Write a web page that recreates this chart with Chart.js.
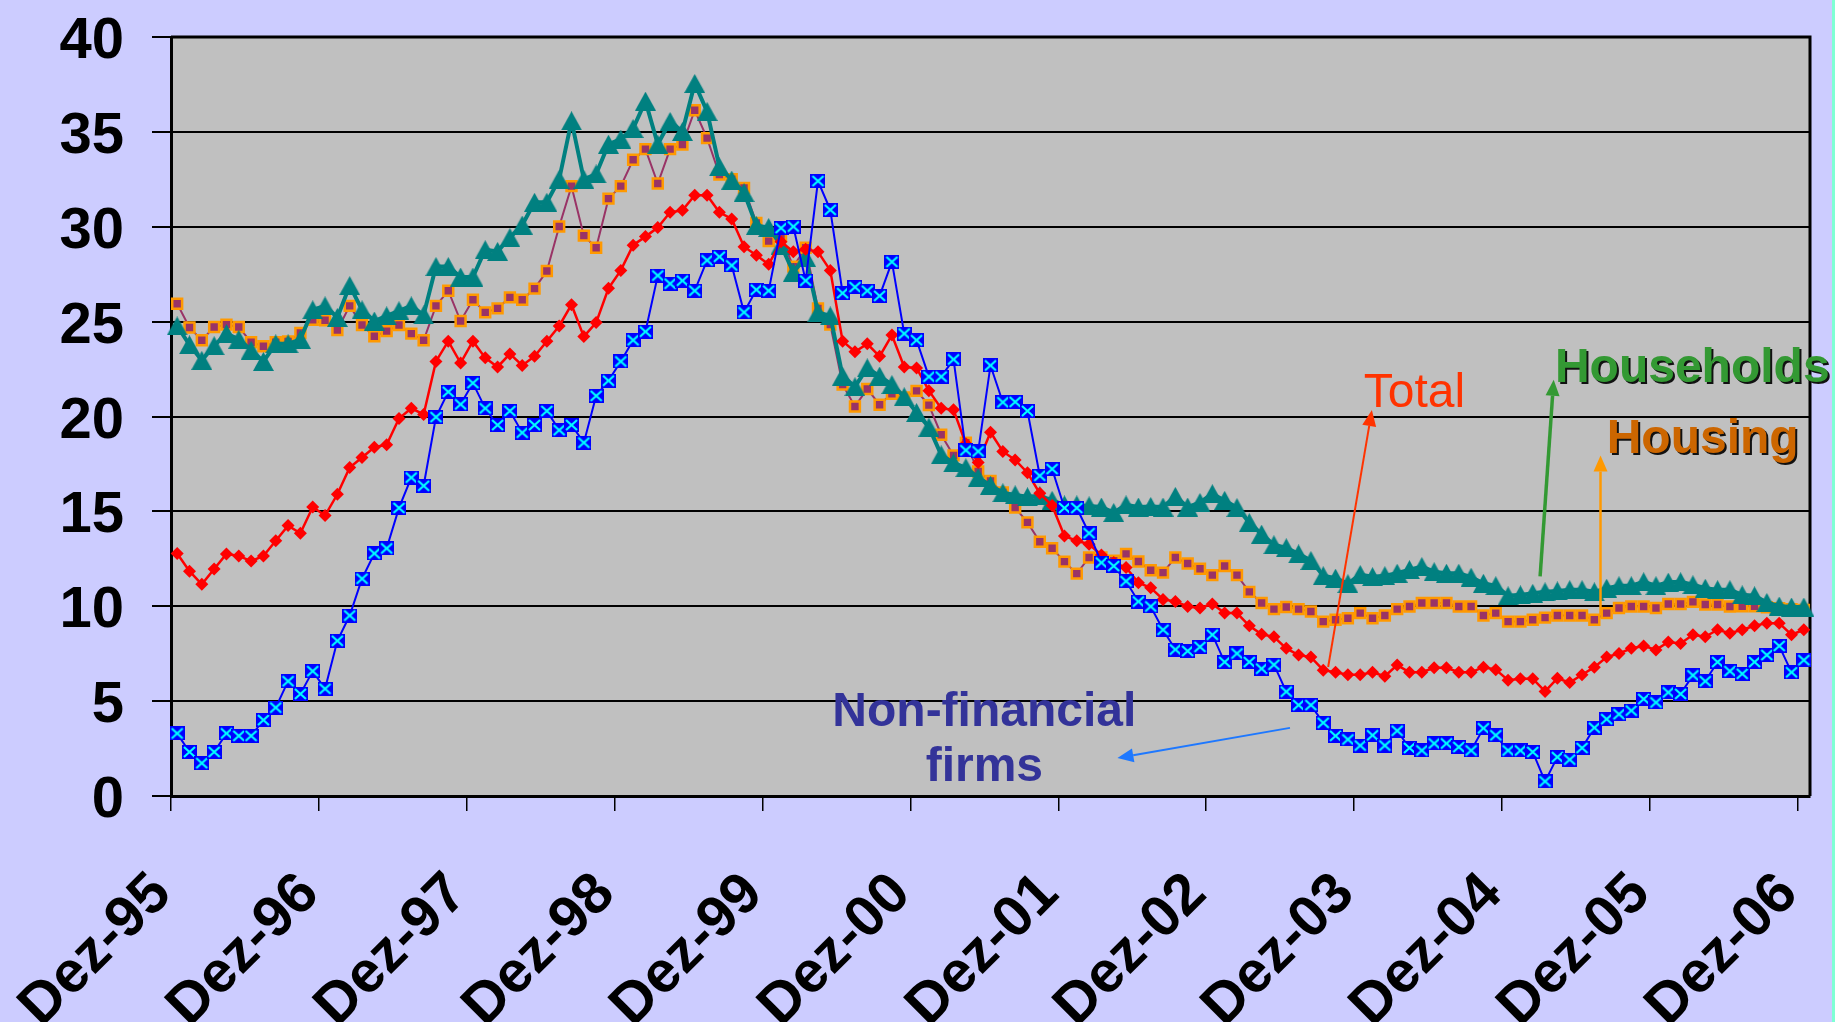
<!DOCTYPE html>
<html>
<head>
<meta charset="utf-8">
<script src="https://cdn.jsdelivr.net/npm/chart.js@4.4.1/dist/chart.umd.min.js"></script>
<style>
  html, body { margin: 0; padding: 0; background: #CCCCFF; overflow: hidden; }
  #wrap { position: relative; width: 1835px; height: 1022px; }
  #strip { position: absolute; right: 0; top: 0; width: 3px; height: 1022px; background: #7FFFD4; }
</style>
</head>
<body>
<div id="wrap">
  <canvas id="myChart" width="1835" height="1022"></canvas>
  <div id="strip"></div>
</div>
<script>
'use strict';

// monthly observations, Dez-95 .. Dez-06
var monthNames = ['Jan', 'Fev', 'Mar', 'Abr', 'Mai', 'Jun', 'Jul', 'Ago', 'Set', 'Out', 'Nov', 'Dez'];
var years = ['95', '96', '97', '98', '99', '00', '01', '02', '03', '04', '05', '06'];
var yTicks = [0, 5, 10, 15, 20, 25, 30, 35, 40];

var months = ['Dez-95'];
for (var y = 1; y < years.length; y++) {
  for (var m = 0; m < 12; m++) months.push(monthNames[m] + '-' + years[y]);
}

var total = [
  12.78, 11.85, 11.16, 11.96, 12.76, 12.65, 12.38, 12.65, 13.45, 14.25, 13.85, 15.23, 14.78,
  15.9, 17.31, 17.84, 18.38, 18.51, 19.89, 20.43, 20.11, 22.9, 23.97, 22.82, 23.97,
  23.09, 22.61, 23.3, 22.69, 23.17, 23.97, 24.77, 25.89, 24.21, 24.95, 26.76, 27.7,
  29.03, 29.48, 29.96, 30.76, 30.87, 31.66, 31.66, 30.76, 30.41, 28.95, 28.5, 28.02,
  29.21, 28.68, 28.82, 28.68, 27.7, 23.97, 23.41, 23.83, 23.17, 24.29, 22.61, 22.56,
  21.36, 20.43, 20.35, 18.56, 17.58, 19.17, 18.16, 17.71, 17.04, 15.95, 15.31, 13.7,
  13.45, 13.27, 12.7, 12.3, 12.04, 11.24, 10.97, 10.36, 10.25, 9.99, 9.91, 10.12,
  9.64, 9.64, 8.97, 8.52, 8.39, 7.78, 7.43, 7.32, 6.63, 6.52, 6.39, 6.39,
  6.52, 6.31, 6.9, 6.52, 6.52, 6.76, 6.76, 6.52, 6.52, 6.79, 6.66, 6.1,
  6.18, 6.18, 5.51, 6.2, 5.98, 6.39, 6.79, 7.32, 7.51, 7.78, 7.91, 7.7,
  8.12, 8.04, 8.5, 8.39, 8.76, 8.58, 8.76, 8.97, 9.11, 9.11, 8.5, 8.76
];

var housing = [
  25.94, 24.69, 24.02, 24.72, 24.84, 24.72, 23.91, 23.7, 23.92, 23.95, 24.4, 25.1, 25.07,
  24.55, 25.83, 24.82, 24.23, 24.5, 24.82, 24.37, 24.02, 25.83, 26.63, 25.03, 26.15,
  25.49, 25.7, 26.28, 26.15, 26.74, 27.67, 30.01, 32.14, 29.53, 28.89, 31.48, 32.14,
  33.53, 34.09, 32.28, 34.09, 34.33, 36.14, 34.67, 32.75, 32.5, 32.05, 30.2, 29.24,
  29.5, 27.9, 28.89, 25.7, 24.84, 21.68, 20.53, 21.45, 20.62, 21.2, 21.0, 21.35,
  20.6, 19.04, 17.95, 18.62, 17.1, 16.6, 16.0, 15.2, 14.42, 13.4, 13.06, 12.35,
  11.72, 12.57, 12.57, 12.4, 12.76, 12.36, 11.9, 11.77, 12.57, 12.25, 11.98, 11.64,
  12.12, 11.64, 10.76, 10.17, 9.85, 9.96, 9.85, 9.72, 9.19, 9.29, 9.37, 9.64,
  9.37, 9.51, 9.85, 9.99, 10.17, 10.17, 10.17, 9.99, 9.99, 9.51, 9.64, 9.19,
  9.19, 9.29, 9.4, 9.51, 9.51, 9.51, 9.29, 9.64, 9.91, 9.99, 9.99, 9.91,
  10.12, 10.12, 10.23, 10.09, 10.09, 9.99, 10.0, 10.0, 9.95, 9.9, 9.85, 9.8
];

var households = [
  24.77, 23.78, 22.96, 23.73, 24.37, 24.07, 23.49, 22.9, 23.83, 23.83, 24.07, 25.62, 25.83,
  25.22, 26.9, 25.62, 25.03, 25.3, 25.57, 25.83, 25.35, 27.9, 27.9, 27.35, 27.35,
  28.79, 28.7, 29.43, 30.09, 31.29, 31.29, 32.5, 35.58, 32.5, 32.78, 34.35, 34.62,
  35.18, 36.62, 34.35, 35.55, 35.02, 37.55, 36.08, 33.16, 32.46, 31.8, 30.07, 29.96,
  29.03, 27.6, 28.38, 25.49, 25.3, 22.13, 21.57, 22.56, 22.13, 21.68, 21.04, 20.21,
  19.44, 17.98, 17.55, 17.3, 16.78, 16.38, 15.98, 15.87, 15.77, 15.82, 15.58, 15.34,
  15.34, 15.29, 15.23, 14.94, 15.34, 15.23, 15.26, 15.23, 15.79, 15.23, 15.47, 15.93,
  15.58, 15.2, 14.41, 13.8, 13.24, 13.08, 12.76, 12.41, 11.61, 11.48, 11.19, 11.67,
  11.56, 11.61, 11.74, 11.93, 12.09, 11.82, 11.74, 11.74, 11.53, 11.21, 11.08, 10.55,
  10.6, 10.68, 10.76, 10.81, 10.87, 10.87, 10.76, 10.95, 11.08, 11.08, 11.29, 11.08,
  11.27, 11.29, 11.13, 10.95, 10.87, 10.87, 10.6, 10.55, 10.2, 10.01, 9.96, 9.96
];

var nonFinancial = [
  3.3, 2.32, 1.73, 2.32, 3.3, 3.17, 3.17, 4.0, 4.66, 6.05, 5.38, 6.58, 5.65,
  8.18, 9.51, 11.45, 12.78, 13.05, 15.18, 16.78, 16.35, 19.97, 21.3, 20.64, 21.76,
  20.43, 19.55, 20.29, 19.15, 19.55, 20.29, 19.28, 19.55, 18.62, 21.09, 21.89, 22.9,
  24.02, 24.47, 27.43, 27.0, 27.16, 26.63, 28.23, 28.42, 27.96, 25.49, 26.68, 26.63,
  29.93, 30.01, 27.16, 32.41, 30.89, 26.5, 26.82, 26.63, 26.36, 28.15, 24.37, 24.02,
  22.1, 22.1, 23.01, 18.22, 18.16, 22.69, 20.75, 20.77, 20.29, 16.88, 17.23, 15.18,
  15.18, 13.85, 12.3, 12.12, 11.32, 10.25, 9.99, 8.76, 7.72, 7.64, 7.86, 8.5,
  7.06, 7.51, 7.06, 6.71, 6.92, 5.5, 4.79, 4.79, 3.86, 3.17, 2.98, 2.66,
  3.2, 2.66, 3.44, 2.53, 2.4, 2.77, 2.77, 2.58, 2.4, 3.57, 3.2, 2.4,
  2.4, 2.32, 0.77, 2.05, 1.92, 2.53, 3.6, 4.05, 4.31, 4.5, 5.11, 4.93,
  5.46, 5.38, 6.36, 6.05, 7.06, 6.58, 6.44, 7.06, 7.43, 7.91, 6.52, 7.16
];

// text labels and arrows, placed in data units (category index, value)
var notes = [
  { text: 'Non-financial', at: [65.5, 3.7], color: '#333399', weight: 'bold', align: 'center' },
  { text: 'firms', at: [65.5, 0.8], color: '#333399', weight: 'bold', align: 'center' },
  { text: 'Total', at: [100.4, 20.5], color: '#FF3300', weight: 'normal', align: 'center' },
  { text: 'Households', at: [111.8, 21.8], color: '#339933', weight: 'bold', align: 'left', shadow: true },
  { text: 'Housing', at: [116.0, 18.1], color: '#CC6600', weight: 'bold', align: 'left', shadow: true }
];
var arrows = [
  { from: [90.3, 3.59], to: [76.3, 2.0], color: '#1E78FF', width: 2 },
  { from: [93.4, 6.8], to: [96.95, 20.34], color: '#FF3300', width: 2 },
  { from: [110.6, 11.57], to: [111.7, 21.94], color: '#339933', width: 3.5 },
  { from: [115.5, 9.57], to: [115.5, 17.94], color: '#FF9900', width: 2.5 }
];

var FONT = 'Liberation Sans, Arial, sans-serif';

function makeBoxCross() {
  var c = document.createElement('canvas');
  c.width = 15; c.height = 14;
  var g = c.getContext('2d');
  g.fillStyle = '#0000FF';
  g.fillRect(0, 0, 15, 14);
  g.strokeStyle = '#00FFFF';
  g.lineWidth = 2.2;
  g.beginPath();
  g.moveTo(2, 2); g.lineTo(13, 12);
  g.moveTo(13, 2); g.lineTo(2, 12);
  g.stroke();
  return c;
}

function makeTriangle() {
  var c = document.createElement('canvas');
  c.width = 21; c.height = 19;
  var g = c.getContext('2d');
  g.fillStyle = '#008080';
  g.beginPath();
  g.moveTo(10.5, 0); g.lineTo(21, 19); g.lineTo(0, 19);
  g.closePath();
  g.fill();
  return c;
}

function drawArrow(ctx, x1, y1, x2, y2, color, width) {
  var ang = Math.atan2(y2 - y1, x2 - x1);
  var len = 16, half = 7;
  var bx = x2 - Math.cos(ang) * len, by = y2 - Math.sin(ang) * len;
  ctx.strokeStyle = color;
  ctx.fillStyle = color;
  ctx.lineWidth = width;
  ctx.beginPath();
  ctx.moveTo(x1, y1);
  ctx.lineTo(bx, by);
  ctx.stroke();
  ctx.beginPath();
  ctx.moveTo(x2, y2);
  ctx.lineTo(bx + Math.sin(ang) * half, by - Math.cos(ang) * half);
  ctx.lineTo(bx - Math.sin(ang) * half, by + Math.cos(ang) * half);
  ctx.closePath();
  ctx.fill();
}

var backdrop = {
  id: 'backdrop',
  beforeDraw: function (chart) {
    var ctx = chart.ctx, a = chart.chartArea;
    ctx.save();
    ctx.fillStyle = '#CCCCFF';
    ctx.fillRect(0, 0, chart.width, chart.height);
    ctx.fillStyle = '#C0C0C0';
    ctx.fillRect(a.left, a.top, a.right - a.left, a.bottom - a.top);
    ctx.restore();
  },
  beforeDatasetsDraw: function (chart) {
    var ctx = chart.ctx, a = chart.chartArea;
    ctx.save();
    ctx.strokeStyle = '#000';
    ctx.lineWidth = 3;
    ctx.beginPath();
    ctx.moveTo(a.left, a.top);
    ctx.lineTo(a.right, a.top);
    ctx.lineTo(a.right, a.bottom);
    ctx.stroke();
    ctx.restore();
  },
  afterDatasetsDraw: function (chart) {
    var ctx = chart.ctx, xs = chart.scales.x, ys = chart.scales.y;
    ctx.save();
    arrows.forEach(function (ar) {
      drawArrow(ctx,
        xs.getPixelForValue(ar.from[0]), ys.getPixelForValue(ar.from[1]),
        xs.getPixelForValue(ar.to[0]), ys.getPixelForValue(ar.to[1]),
        ar.color, ar.width);
    });
    ctx.textBaseline = 'alphabetic';
    notes.forEach(function (n) {
      var px = xs.getPixelForValue(n.at[0]), py = ys.getPixelForValue(n.at[1]);
      ctx.font = n.weight + ' 48px ' + FONT;
      ctx.textAlign = n.align;
      if (n.shadow) {
        ctx.fillStyle = '#111';
        ctx.fillText(n.text, px + 2, py + 2);
      }
      ctx.fillStyle = n.color;
      ctx.fillText(n.text, px, py);
    });
    ctx.restore();
  }
};

var ctx = document.getElementById('myChart');
var myChart = new Chart(ctx, {
  type: 'line',
  data: {
    labels: months,
    datasets: [{
      label: 'Non-financial firms',
      data: nonFinancial,
      borderColor: '#0000FF',
      borderWidth: 2,
      pointStyle: makeBoxCross(),
      pointRadius: 7,
      order: 1
    }, {
      label: 'Total',
      data: total,
      borderColor: '#FF0000',
      borderWidth: 2.5,
      pointStyle: 'rectRot',
      pointRadius: 6.5,
      pointBackgroundColor: '#FF0000',
      pointBorderColor: '#FF0000',
      pointBorderWidth: 0,
      order: 2
    }, {
      label: 'Households',
      data: households,
      borderColor: '#008080',
      borderWidth: 4,
      pointStyle: makeTriangle(),
      pointRadius: 9,
      order: 3
    }, {
      label: 'Housing',
      data: housing,
      borderColor: '#993366',
      borderWidth: 2,
      pointStyle: 'rect',
      pointRadius: 7,
      pointBackgroundColor: '#993366',
      pointBorderColor: '#FF9900',
      pointBorderWidth: 2.5,
      order: 4
    }]
  },
  options: {
    responsive: false,
    animation: false,
    devicePixelRatio: 1,
    clip: false,
    layout: { padding: { top: 37, right: 25, left: 0, bottom: 0 } },
    elements: { line: { tension: 0, fill: false } },
    plugins: { legend: { display: false }, tooltip: { enabled: false } },
    scales: {
      x: {
        type: 'category',
        offset: true,
        afterFit: function (scale) {
          scale.height = 226;
          scale.paddingLeft = 0;
          scale.paddingRight = 0;
        },
        grid: {
          offset: true,
          drawOnChartArea: false,
          drawTicks: true,
          tickLength: 15,
          lineWidth: 1.5,
          color: function (c) { return c.index % 12 === 0 ? '#000' : 'rgba(0,0,0,0)'; }
        },
        border: { color: '#000', width: 3 },
        ticks: {
          autoSkip: false,
          minRotation: 45,
          maxRotation: 45,
          padding: 49,
          labelOffset: -15,
          color: '#000',
          font: { family: FONT, weight: 'bold', size: 58 },
          callback: function (v, i) { return i % 12 === 0 ? months[i] : ''; }
        }
      },
      y: {
        min: yTicks[0],
        max: yTicks[yTicks.length - 1],
        afterFit: function (scale) {
          scale.width = 171;
          scale.paddingTop = 0;
          scale.paddingBottom = 0;
        },
        grid: { color: '#000', lineWidth: 2, tickLength: 19 },
        border: { color: '#000', width: 3 },
        ticks: {
          stepSize: 5,
          padding: 28,
          labelOffset: 5,
          color: '#000',
          font: { family: FONT, weight: 'bold', size: 58 }
        }
      }
    }
  },
  plugins: [backdrop]
});
</script>
</body>
</html>
